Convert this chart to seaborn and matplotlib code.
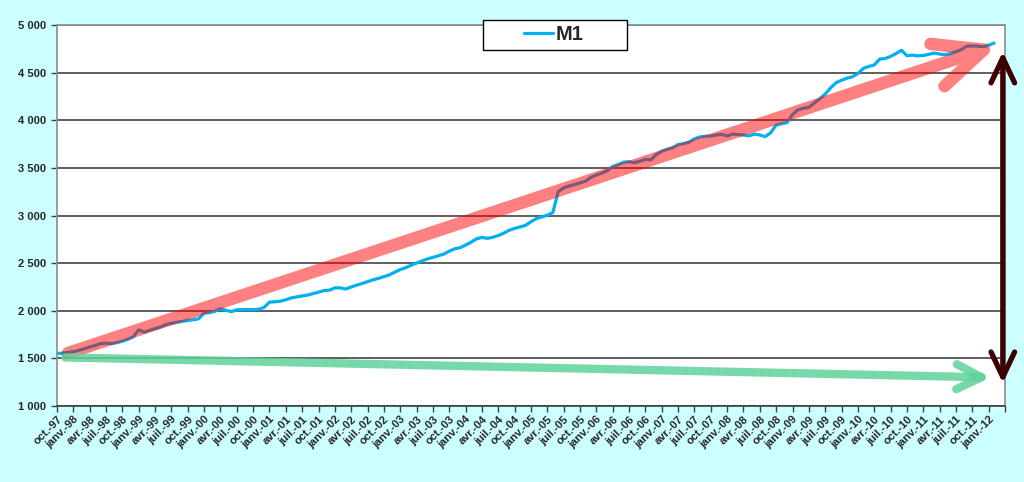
import pandas as pd
import matplotlib
matplotlib.use('Agg')
import matplotlib.pyplot as plt
import matplotlib.patches as mpatches
from matplotlib.ticker import FuncFormatter, MultipleLocator
import seaborn as sns

# Agrégat M1, valeurs mensuelles d'oct. 1997 à fév. 2012
m1 = [
    1551, 1555, 1562, 1570, 1585, 1600, 1620, 1635, 1655, 1660, 1655, 1665,
    1680, 1700, 1726, 1800, 1775, 1795, 1812, 1830, 1855, 1868, 1880, 1888,
    1898, 1905, 1915, 1975, 1980, 1995, 2022, 2005, 1990, 2010, 2012, 2014,
    2012, 2015, 2035, 2090, 2095, 2100, 2115, 2135, 2145, 2155, 2165, 2180,
    2195, 2212, 2216, 2240, 2240, 2228, 2250, 2268, 2285, 2305, 2325, 2340,
    2358, 2376, 2405, 2432, 2452, 2478, 2500, 2522, 2545, 2560, 2578, 2595,
    2625, 2650, 2662, 2690, 2720, 2755, 2770, 2760, 2772, 2790, 2815, 2845,
    2865, 2880, 2897, 2935, 2968, 2985, 3004, 3030, 3250, 3290, 3310, 3325,
    3342, 3360, 3400, 3425, 3445, 3470, 3515, 3535, 3560, 3565, 3555, 3570,
    3590, 3584, 3640, 3675, 3695, 3712, 3745, 3755, 3770, 3805, 3825, 3832,
    3834, 3845, 3852, 3835, 3855, 3850, 3845, 3836, 3855, 3845, 3828, 3870,
    3950, 3962, 3975, 4060, 4110, 4126, 4135, 4180, 4225, 4275, 4340, 4395,
    4420, 4442, 4457, 4490, 4545, 4565, 4580, 4642, 4648, 4670, 4700, 4735,
    4678, 4684, 4676, 4680, 4692, 4705, 4695, 4688, 4700, 4720, 4742, 4778,
    4780, 4778, 4772, 4788, 4810,
]

tick_labels = [
    'oct.-97',
    'janv.-98', 'avr.-98', 'juil.-98', 'oct.-98',
    'janv.-99', 'avr.-99', 'juil.-99', 'oct.-99',
    'janv.-00', 'avr.-00', 'juil.-00', 'oct.-00',
    'janv.-01', 'avr.-01', 'juil.-01', 'oct.-01',
    'janv.-02', 'avr.-02', 'juil.-02', 'oct.-02',
    'janv.-03', 'avr.-03', 'juil.-03', 'oct.-03',
    'janv.-04', 'avr.-04', 'juil.-04', 'oct.-04',
    'janv.-05', 'avr.-05', 'juil.-05', 'oct.-05',
    'janv.-06', 'avr.-06', 'juil.-06', 'oct.-06',
    'janv.-07', 'avr.-07', 'juil.-07', 'oct.-07',
    'janv.-08', 'avr.-08', 'juil.-08', 'oct.-08',
    'janv.-09', 'avr.-09', 'juil.-09', 'oct.-09',
    'janv.-10', 'avr.-10', 'juil.-10', 'oct.-10',
    'janv.-11', 'avr.-11', 'juil.-11', 'oct.-11',
    'janv.-12',
]

# flèches d'annotation (mois, valeur)
trend_up_x = [2, 172.7]
trend_up_y = [1555, 4790]
trend_flat_x = [1.5, 171.4]
trend_flat_y = [1510, 1300]
gap_x = 173.6
gap_y = [1240, 4720]


def half_alpha(img, dpi):
    # transparence uniforme, sans surimpression à la pointe
    out = img.copy()
    out[..., 3] = out[..., 3] * 0.5
    return out, 0, 0


sns.set_style('white')
plt.rcParams['font.family'] = ['Liberation Sans', 'DejaVu Sans']

df = pd.DataFrame({'mois': range(len(m1)), 'M1': m1})

fig = plt.figure(figsize=(10.24, 4.82), dpi=100, facecolor='#ccffff')
ax = fig.add_axes([57 / 1024, 1 - 406 / 482, 948 / 1024, 381 / 482])
ax.set_facecolor('white')

sns.lineplot(data=df, x='mois', y='M1', color='#00b0f0', lw=2.3, ax=ax)
line = ax.lines[0]

ax.set_xlim(0, 174)
ax.set_ylim(1000, 5000)
ax.set_xticks(range(0, 175, 3))
ax.set_xticklabels(tick_labels + [''], rotation=45, ha='right', va='top',
                   rotation_mode='anchor')
ax.yaxis.set_major_locator(MultipleLocator(500))
ax.yaxis.set_major_formatter(FuncFormatter(lambda v, p: f'{int(v):,}'.replace(',', ' ')))
ax.set_xlabel('')
ax.set_ylabel('')

ax.yaxis.grid(True, color='#333333', lw=1.1)
ax.set_axisbelow(True)
ax.tick_params(axis='both', bottom=True, left=True, direction='out', length=4,
               width=1, color='#404040', labelsize=8, pad=2)
ax.tick_params(axis='y', pad=4)
for lbl in ax.get_xticklabels() + ax.get_yticklabels():
    lbl.set_fontweight('bold')

for side in ['left', 'top', 'right']:
    ax.spines[side].set_color('#8c8c8c')
    ax.spines[side].set_linewidth(1.2)
ax.spines['bottom'].set_color('#404040')
ax.spines['bottom'].set_linewidth(1.2)

# flèche rouge (tendance de M1)
red = ax.annotate('', xy=(trend_up_x[1], trend_up_y[1]), xytext=(trend_up_x[0], trend_up_y[0]),
                  arrowprops=dict(arrowstyle='->,head_length=35,head_width=16', mutation_scale=1,
                                  color='red', lw=9, shrinkA=0, shrinkB=0),
                  annotation_clip=False)
red.set_agg_filter(half_alpha)

# flèche verte
ax.annotate('', xy=(trend_flat_x[1], trend_flat_y[1]), xytext=(trend_flat_x[0], trend_flat_y[0]),
            arrowprops=dict(arrowstyle='->,head_length=18,head_width=9', mutation_scale=1,
                            color='#5fd39a', alpha=0.85, lw=6, shrinkA=0, shrinkB=0),
            annotation_clip=False)

# double flèche de l'écart
ax.annotate('', xy=(gap_x, gap_y[1]), xytext=(gap_x, gap_y[0]),
            arrowprops=dict(arrowstyle='<->,head_length=18,head_width=8.5', mutation_scale=1,
                            color='#3b0000', lw=3.8, shrinkA=0, shrinkB=0),
            annotation_clip=False)

# cadre de la légende avec ombre
box = mpatches.Rectangle((483 / 1024, 1 - 50 / 482), 144 / 1024, 30 / 482,
                         transform=fig.transFigure, facecolor='white',
                         edgecolor='black', lw=1, zorder=5)
shadow = mpatches.Shadow(box, 2.5, -2.5, zorder=4.9)
fig.add_artist(shadow)
fig.add_artist(box)

leg = fig.legend(handles=[line], labels=['M1'], loc='center',
                 bbox_to_anchor=(554 / 1024, 1 - 35 / 482), frameon=False,
                 prop={'weight': 'bold', 'size': 14.5}, handlelength=1.4,
                 handletextpad=0.15)
leg.set_zorder(6)

fig.savefig('out.png', dpi=100, facecolor=fig.get_facecolor())
